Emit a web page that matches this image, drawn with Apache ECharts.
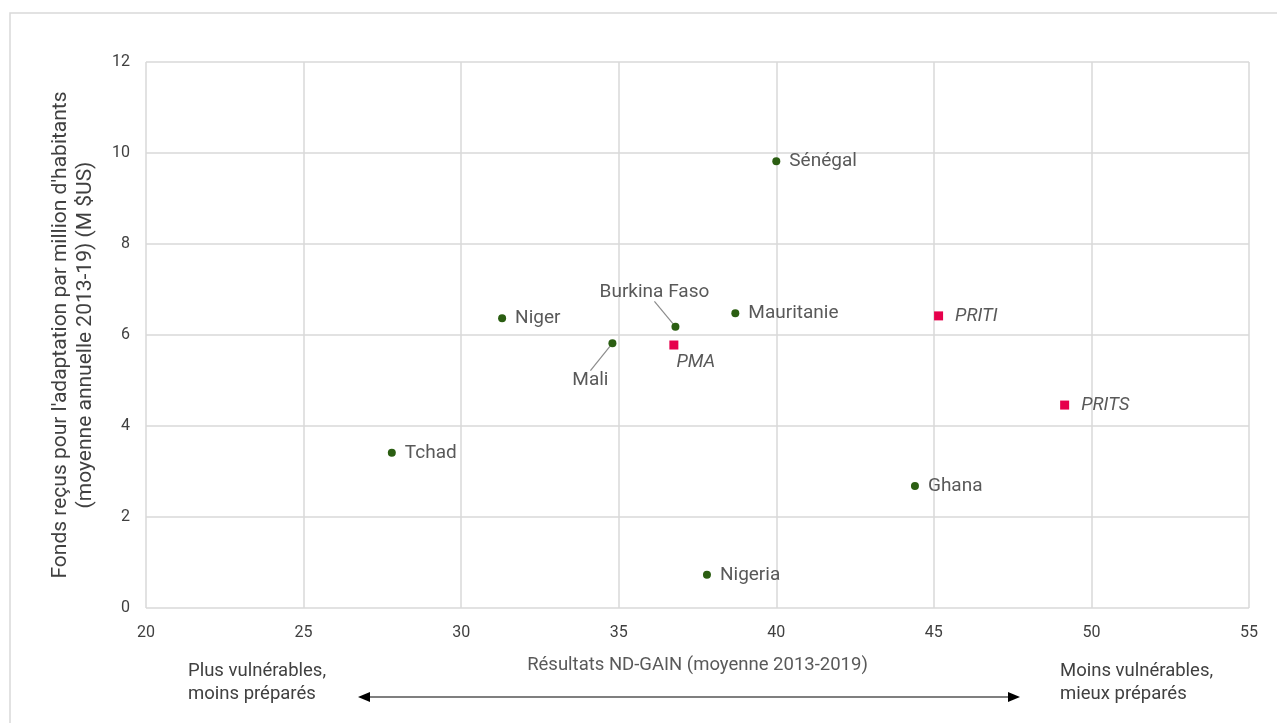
<!DOCTYPE html>
<html><head><meta charset="utf-8">
<script src="https://cdn.jsdelivr.net/npm/echarts@6/dist/echarts.min.js"></script>
<style>html,body{margin:0;padding:0;background:#fff}#c{width:1277px;height:723px}</style>
</head><body><div id="c"></div>
<script>
const countries = ['Sénégal','Niger','Mali','Burkina Faso','Mauritanie','Tchad','Ghana','Nigeria'];
const countryX = [40.0, 31.3, 34.8, 36.8, 38.7, 27.8, 44.4, 37.8];
const countryY = [9.82, 6.37, 5.82, 6.18, 6.48, 3.41, 2.68, 0.73];
const groups = ['PMA','PRITI','PRITS'];
const groupX = [36.75, 45.15, 49.15];
const groupY = [5.78, 6.42, 4.46];
const xTicks = [20,25,30,35,40,45,50,55];
const yTicks = [0,2,4,6,8,10,12];

const FONT = 'Roboto';
const TXT = '#595959';
// label-centre displacement from the point, for labels with leader lines (pixels)
const labelShift = {'Burkina Faso': [-21, -35], 'Mali': [-22, 37]};

const chart = echarts.init(document.getElementById('c'));
const countryData = countries.map((n,i)=>{
  const item = {name:n, value:[countryX[i], countryY[i]]};
  if (labelShift[n]) {
    item.labelLine = {show:true, lineStyle:{color:'#8c8c8c', width:1.2}};
  }
  return item;
});
const groupData = groups.map((n,i)=>{
  const item = {name:n, value:[groupX[i], groupY[i]]};
  if (n==='PMA') item.label = {position:'inside', offset:[22, 17]};
  return item;
});
chart.setOption({
  animation:false,
  textStyle:{fontFamily:FONT},
  grid:{left:146, right:28, top:62, bottom:115},
  xAxis:{type:'value', min:xTicks[0], max:xTicks[xTicks.length-1], interval:5,
    name:'Résultats ND-GAIN (moyenne 2013-2019)', nameLocation:'middle', nameGap:48,
    nameTextStyle:{color:TXT, fontSize:18.5, fontFamily:FONT},
    axisLine:{show:false}, axisTick:{show:false},
    axisLabel:{color:'#404040', fontSize:16, margin:17, fontFamily:FONT},
    splitLine:{show:true, lineStyle:{color:'#d9d9d9', width:1.5}}},
  yAxis:{type:'value', min:yTicks[0], max:yTicks[yTicks.length-1], interval:2,
    name:"Fonds reçus pour l'adaptation par million d'habitants\n(moyenne annuelle 2013-19) (M $US)",
    nameLocation:'middle', nameGap:48,
    nameTextStyle:{color:'#404040', fontSize:21, lineHeight:25, fontFamily:FONT},
    axisLine:{show:false}, axisTick:{show:false},
    axisLabel:{color:'#404040', fontSize:16, margin:16, fontFamily:FONT},
    splitLine:{show:true, lineStyle:{color:'#d9d9d9', width:1.5}}},
  series:[
    {type:'scatter', symbol:'circle', symbolSize:8, itemStyle:{color:'#2b5e12', opacity:1},
     data:countryData,
     label:{show:true, position:'right', distance:9, formatter:'{b}', color:TXT, fontSize:19, fontFamily:FONT},
     labelLine:{show:false},
     labelLayout:function(p){
       const s = labelShift[countries[p.dataIndex]];
       if (!s) return {};
       const cx = p.rect.x + p.rect.width/2 + s[0];
       const cy = p.rect.y + p.rect.height/2 + s[1];
       return {dx: cx - (p.labelRect.x + p.labelRect.width/2), dy: cy - (p.labelRect.y + p.labelRect.height/2)};
     }},
    {type:'scatter', symbol:'rect', symbolSize:9, itemStyle:{color:'#e6004c', opacity:1},
     data:groupData,
     label:{show:true, position:'right', distance:12, formatter:'{b}', color:TXT, fontSize:18.5, fontStyle:'italic', fontFamily:FONT}}
  ],
  graphic:[
    {type:'rect', shape:{x:10, y:13, width:1270, height:720}, style:{fill:'none', stroke:'#d9d9d9', lineWidth:1.5}, silent:true},
    {type:'text', left:188, top:660, style:{text:'Plus vulnérables,\nmoins préparés', fill:'#404040', font:'18.5px '+FONT, lineHeight:23}},
    {type:'text', left:1060, top:660, style:{text:'Moins vulnérables,\nmieux préparés', fill:'#404040', font:'18.5px '+FONT, lineHeight:23}},
    {type:'line', shape:{x1:368, y1:697, x2:1010, y2:697}, style:{stroke:'#000', lineWidth:1.2}},
    {type:'polygon', shape:{points:[[358,697],[370,692],[370,702]]}, style:{fill:'#000'}},
    {type:'polygon', shape:{points:[[1020,697],[1008,692],[1008,702]]}, style:{fill:'#000'}}
  ]
});
</script></body></html>
